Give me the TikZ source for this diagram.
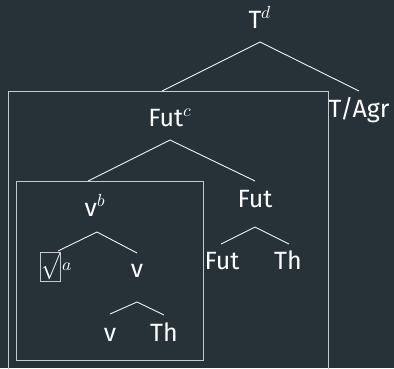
\documentclass[tikz,border=0pt]{standalone}
\usepackage{fontspec}
\usepackage{unicode-math}
\setmainfont{Fira Sans}
\setmathfont{Latin Modern Math}
\usetikzlibrary{positioning}
\definecolor{treebg}{RGB}{38,50,56}
\definecolor{treeline}{RGB}{240,242,243}
\definecolor{boxline}{RGB}{196,202,205}

\begin{document}
\begin{tikzpicture}[
  x=1pt,y=-1pt,
  font=\fontsize{25}{30}\selectfont,
  cat/.style={text=white,inner sep=0pt,anchor=base},
  branch/.style={draw=treeline,line width=0.9pt},
  frame/.style={draw=boxline,line width=0.9pt,inner sep=0pt,anchor=north west}
]
  \fill[treebg] (0,0) rectangle (394,368);
  \clip (0,0) rectangle (394,368);

  % boxes
  \node[frame,minimum width=20pt,minimum height=29pt,text=white] (root) at (40,252)
    {\hspace*{1.5pt}\scalebox{0.9}[1.05]{$\surd$}};
  \node[frame,minimum width=320pt,minimum height=300pt] (futbox) at (8,91) {};
  \node[frame,minimum width=187pt,minimum height=179pt] (vbox) at (16,181) {};
  \node[text=white,inner sep=0pt,anchor=base west] (rootsup) at (62,270) {$\scriptstyle a$};

  % categories
  \node[cat] (td) at (260,28) {T$^d$};
  \node[cat] (tagr) at (359,117) {T/Agr};
  \node[cat] (futc) at (170,126) {Fut$^c$};
  \node[cat] (fut) at (255,207) {Fut};
  \node[cat] (futl) at (222,269) {Fut};
  \node[cat] (thr) at (288,269) {Th};
  \node[cat] (vb) at (95,216) {v$^b$};
  \node[cat] (v) at (137,277) {v};
  \node[cat] (vl) at (110,341) {v};
  \node[cat] (thl) at (164,341) {Th};

  % branch points
  \coordinate (td-a) at (260,42);
  \coordinate (td-l) at (162,91);
  \coordinate (td-r) at (359,91);
  \coordinate (futc-a) at (170,140);
  \coordinate (futc-l) at (88,181);
  \coordinate (futc-r) at (255,181);
  \coordinate (vb-a) at (97,232);
  \coordinate (vb-l) at (58,251);
  \coordinate (vb-r) at (137,253);
  \coordinate (v-a) at (137,302);
  \coordinate (v-l) at (110,314);
  \coordinate (v-r) at (164,315);
  \coordinate (fut-a) at (255,227);
  \coordinate (fut-l) at (221,244);
  \coordinate (fut-r) at (289,244);

  \foreach \n in {td,futc,vb,v,fut} {
    \draw[branch] (\n-l) -- (\n-a) -- (\n-r);
  }
\end{tikzpicture}
\end{document}
